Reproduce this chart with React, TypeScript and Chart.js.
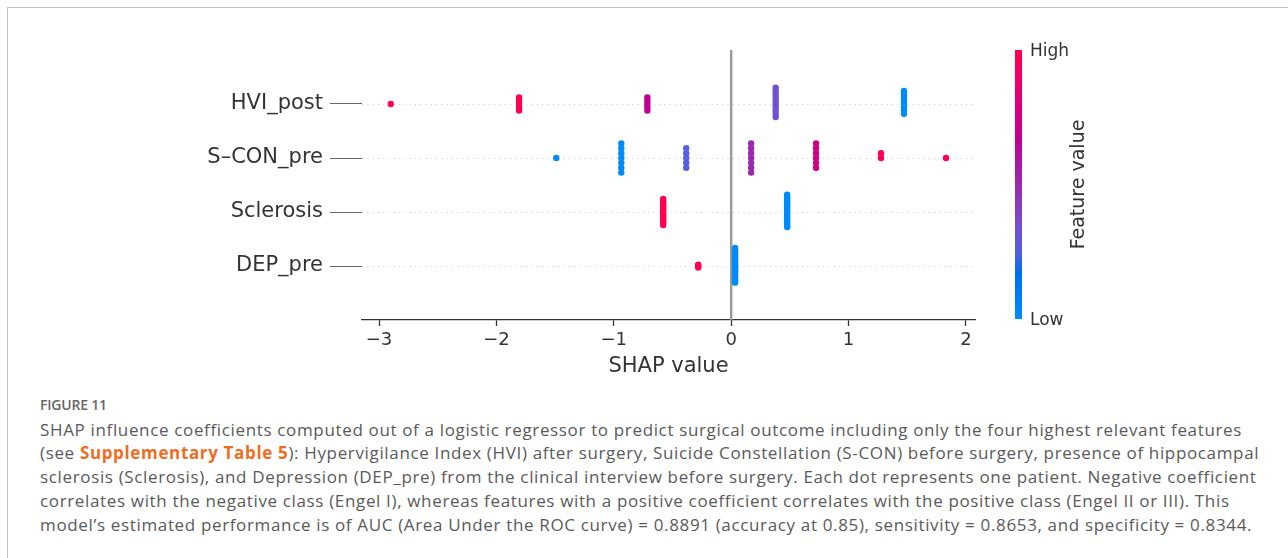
import React, { useEffect, useRef } from "react";
import { Chart, registerables } from "chart.js";

Chart.register(...registerables);

// ---------- data ----------
const FEATURES = ["HVI_post", "S–CON_pre", "Sclerosis", "DEP_pre"]; // top to bottom

const HVI_SHAP = [-2.9, -1.807, -0.714, 0.379, 1.472];
const HVI_COUNT = [1, 5, 5, 10, 8];
const HVI_COLOR = [1, 1, 0.667, 0.333, 0];

const SCON_SHAP = [-1.49, -0.936, -0.383, 0.17, 0.723, 1.276, 1.83];
const SCON_COUNT = [1, 7, 5, 7, 6, 2, 1];
const SCON_COLOR = [0, 0, 0.25, 0.5, 0.75, 1, 1];

const SCLER_SHAP = [-0.579, 0.477];
const SCLER_COUNT = [13, 16];
const SCLER_COLOR = [1, 0];

const DEP_SHAP = [-0.281, 0.033];
const DEP_COUNT = [3, 26];
const DEP_COLOR = [1, 0];

const X_TICKS = [-3, -2, -1, 0, 1, 2];
const X_MIN = -3.145;
const X_MAX = 2.077;

// colormap stops (feature value 0 = low/blue, 1 = high/red)
const CMAP_POS = [0, 0.1, 0.17, 0.25, 0.33, 0.42, 0.5, 0.6, 0.67, 0.75, 0.85, 1];
const CMAP_RGB = [
  [0, 139, 251],
  [0, 122, 246],
  [0, 110, 240],
  [85, 95, 225],
  [112, 82, 212],
  [135, 62, 190],
  [152, 42, 172],
  [172, 20, 160],
  [190, 0, 145],
  [208, 0, 130],
  [230, 0, 110],
  [255, 0, 82],
];

function cmap(t: number): string {
  const v = Math.max(0, Math.min(1, t));
  for (let i = 1; i < CMAP_POS.length; i++) {
    if (v <= CMAP_POS[i]) {
      const f = (v - CMAP_POS[i - 1]) / (CMAP_POS[i] - CMAP_POS[i - 1]);
      const a = CMAP_RGB[i - 1];
      const b = CMAP_RGB[i];
      const c = a.map((x, k) => Math.round(x + (b[k] - x) * f));
      return `rgb(${c[0]},${c[1]},${c[2]})`;
    }
  }
  const l = CMAP_RGB[CMAP_RGB.length - 1];
  return `rgb(${l[0]},${l[1]},${l[2]})`;
}

// beeswarm layout like shap: stack identical values symmetrically around the row
function swarm(shaps: number[], counts: number[], colors: number[], row: number) {
  const raw: { x: number; off: number; c: number }[] = [];
  let M = 0;
  counts.forEach((n, k) => {
    for (let layer = 0; layer < n; layer++) {
      const off = Math.ceil(layer / 2) * ((layer % 2) * 2 - 1);
      raw.push({ x: shaps[k], off, c: colors[k] });
      if (off > M) M = off;
    }
  });
  const s = (0.9 * 0.4) / (M + 1);
  return raw.map((p) => ({ x: p.x, y: row + p.off * s, c: p.c }));
}

const decor = {
  id: "shapDecor",
  beforeDatasetsDraw(chart: any) {
    const { ctx, chartArea: a, scales } = chart;
    const x = scales.x;
    const y = scales.y;
    ctx.save();
    ctx.strokeStyle = "#cccccc";
    ctx.lineWidth = 1;
    ctx.setLineDash([1, 4.3]);
    for (let r = 0; r < FEATURES.length; r++) {
      const py = Math.round(y.getPixelForValue(r)) + 0.5;
      ctx.beginPath();
      ctx.moveTo(a.left, py);
      ctx.lineTo(a.right, py);
      ctx.stroke();
    }
    ctx.setLineDash([]);
    const px = x.getPixelForValue(0);
    ctx.strokeStyle = "#999999";
    ctx.lineWidth = 2.4;
    ctx.beginPath();
    ctx.moveTo(px, a.top);
    ctx.lineTo(px, a.bottom);
    ctx.stroke();
    ctx.restore();
  },
  afterDraw(chart: any) {
    const { ctx, chartArea: a } = chart;
    const x0 = a.right + 40;
    const w = 7;
    const top = a.top;
    const bot = a.bottom - 1;
    ctx.save();
    const g = ctx.createLinearGradient(0, bot, 0, top);
    CMAP_POS.forEach((p, i) => {
      const c = CMAP_RGB[i];
      g.addColorStop(p, `rgb(${c[0]},${c[1]},${c[2]})`);
    });
    ctx.fillStyle = g;
    ctx.fillRect(x0, top, w, bot - top);
    ctx.fillStyle = "#333333";
    ctx.font = "17px 'DejaVu Sans'";
    ctx.textAlign = "left";
    ctx.textBaseline = "middle";
    ctx.fillText("High", x0 + 15, top + 2);
    ctx.fillText("Low", x0 + 15, bot + 2);
    ctx.translate(x0 + 64, (top + bot) / 2);
    ctx.rotate(-Math.PI / 2);
    ctx.textAlign = "center";
    ctx.font = "19px 'DejaVu Sans'";
    ctx.fillText("Feature value", 0, 0);
    ctx.restore();
  },
};

const CAPTION_LINES: React.ReactNode[] = [
  "SHAP influence coefficients computed out of a logistic regressor to predict surgical outcome including only the four highest relevant features",
  <>
    (see <span style={{ color: "#ef6d1f", fontWeight: 700 }}>Supplementary Table 5</span>): Hypervigilance Index (HVI) after surgery,
    Suicide Constellation (S-CON) before surgery, presence of hippocampal
  </>,
  "sclerosis (Sclerosis), and Depression (DEP_pre) from the clinical interview before surgery. Each dot represents one patient. Negative coefficient",
  "correlates with the negative class (Engel I), whereas features with a positive coefficient correlates with the positive class (Engel II or III). This",
  "model’s estimated performance is of AUC (Area Under the ROC curve) = 0.8891 (accuracy at 0.85), sensitivity = 0.8653, and specificity = 0.8344.",
];

export default function App() {
  const ref = useRef<HTMLCanvasElement | null>(null);

  useEffect(() => {
    if (!ref.current) return;
    const pts = [
      ...swarm(HVI_SHAP, HVI_COUNT, HVI_COLOR, 3),
      ...swarm(SCON_SHAP, SCON_COUNT, SCON_COLOR, 2),
      ...swarm(SCLER_SHAP, SCLER_COUNT, SCLER_COLOR, 1),
      ...swarm(DEP_SHAP, DEP_COUNT, DEP_COLOR, 0),
    ];
    const chart = new Chart(ref.current, {
      type: "scatter",
      data: {
        datasets: [
          {
            data: pts.map((p) => ({ x: p.x, y: p.y })),
            pointBackgroundColor: pts.map((p) => cmap(p.c)),
            pointBorderWidth: 0,
            pointRadius: 3.2,
          },
        ],
      },
      options: {
        animation: false,
        responsive: false,
        maintainAspectRatio: false,
        events: [],
        layout: { padding: { left: 112, right: 313, top: 50, bottom: 0 } },
        plugins: { legend: { display: false }, tooltip: { enabled: false } },
        scales: {
          x: {
            type: "linear",
            min: X_MIN,
            max: X_MAX,
            afterFit: (s: any) => {
              s.height = 70;
            },
            afterBuildTicks: (s: any) => {
              s.ticks = X_TICKS.map((v) => ({ value: v }));
            },
            grid: { drawOnChartArea: false, drawTicks: true, tickLength: 6, tickColor: "#333333", tickWidth: 1.3 },
            border: { display: true, color: "#333333", width: 1.3 },
            ticks: {
              font: { family: "DejaVu Sans", size: 18 },
              color: "#333333",
              padding: 4,
              maxRotation: 0,
              autoSkip: false,
              callback: (v: any) => (v < 0 ? "\u2212" + Math.abs(v) : String(v)),
            },
            title: {
              display: true,
              text: "SHAP value",
              font: { family: "DejaVu Sans", size: 21 },
              color: "#333333",
              padding: { top: 0, bottom: 11 },
            },
          },
          y: {
            type: "linear",
            min: -1,
            max: 4,
            afterFit: (s: any) => {
              s.width = 250;
            },
            afterBuildTicks: (s: any) => {
              s.ticks = [0, 1, 2, 3].map((v) => ({ value: v }));
            },
            grid: { drawOnChartArea: false, drawTicks: true, tickLength: 32, tickColor: "#666666", tickWidth: 1 },
            border: { display: false },
            ticks: {
              font: { family: "DejaVu Sans", size: 21 },
              color: "#333333",
              padding: 7,
              autoSkip: false,
              callback: (v: any) => FEATURES[3 - v],
            },
          },
        },
      },
      plugins: [decor],
    });
    return () => chart.destroy();
  }, []);

  return (
    <div style={{ position: "fixed", left: 0, top: 0, width: 1288, height: 558, overflow: "hidden", background: "#fff" }}>
      <div
        style={{
          position: "absolute",
          left: 7,
          top: 7,
          width: 1400,
          height: 700,
          borderLeft: "1px solid #c4c4c4",
          borderTop: "1px solid #c4c4c4",
        }}
      />
      <canvas ref={ref} width={1288} height={390} style={{ position: "absolute", left: 0, top: 0, width: 1288, height: 390 }} />
      <div
        style={{
          position: "absolute",
          left: 40,
          top: 395,
          fontFamily: "'Open Sans', sans-serif",
          fontSize: 14,
          fontWeight: 600,
          color: "#666666",
          letterSpacing: -0.2,
        }}
      >
        FIGURE 11
      </div>
      <div
        style={{
          position: "absolute",
          left: 40,
          top: 417.5,
          fontFamily: "'Open Sans', sans-serif",
          fontSize: 17,
          letterSpacing: 0.65,
          lineHeight: "23.75px",
          color: "#5a5a5a",
          whiteSpace: "nowrap",
        }}
      >
        {CAPTION_LINES.map((l, i) => (
          <div key={i}>{l}</div>
        ))}
      </div>
    </div>
  );
}
